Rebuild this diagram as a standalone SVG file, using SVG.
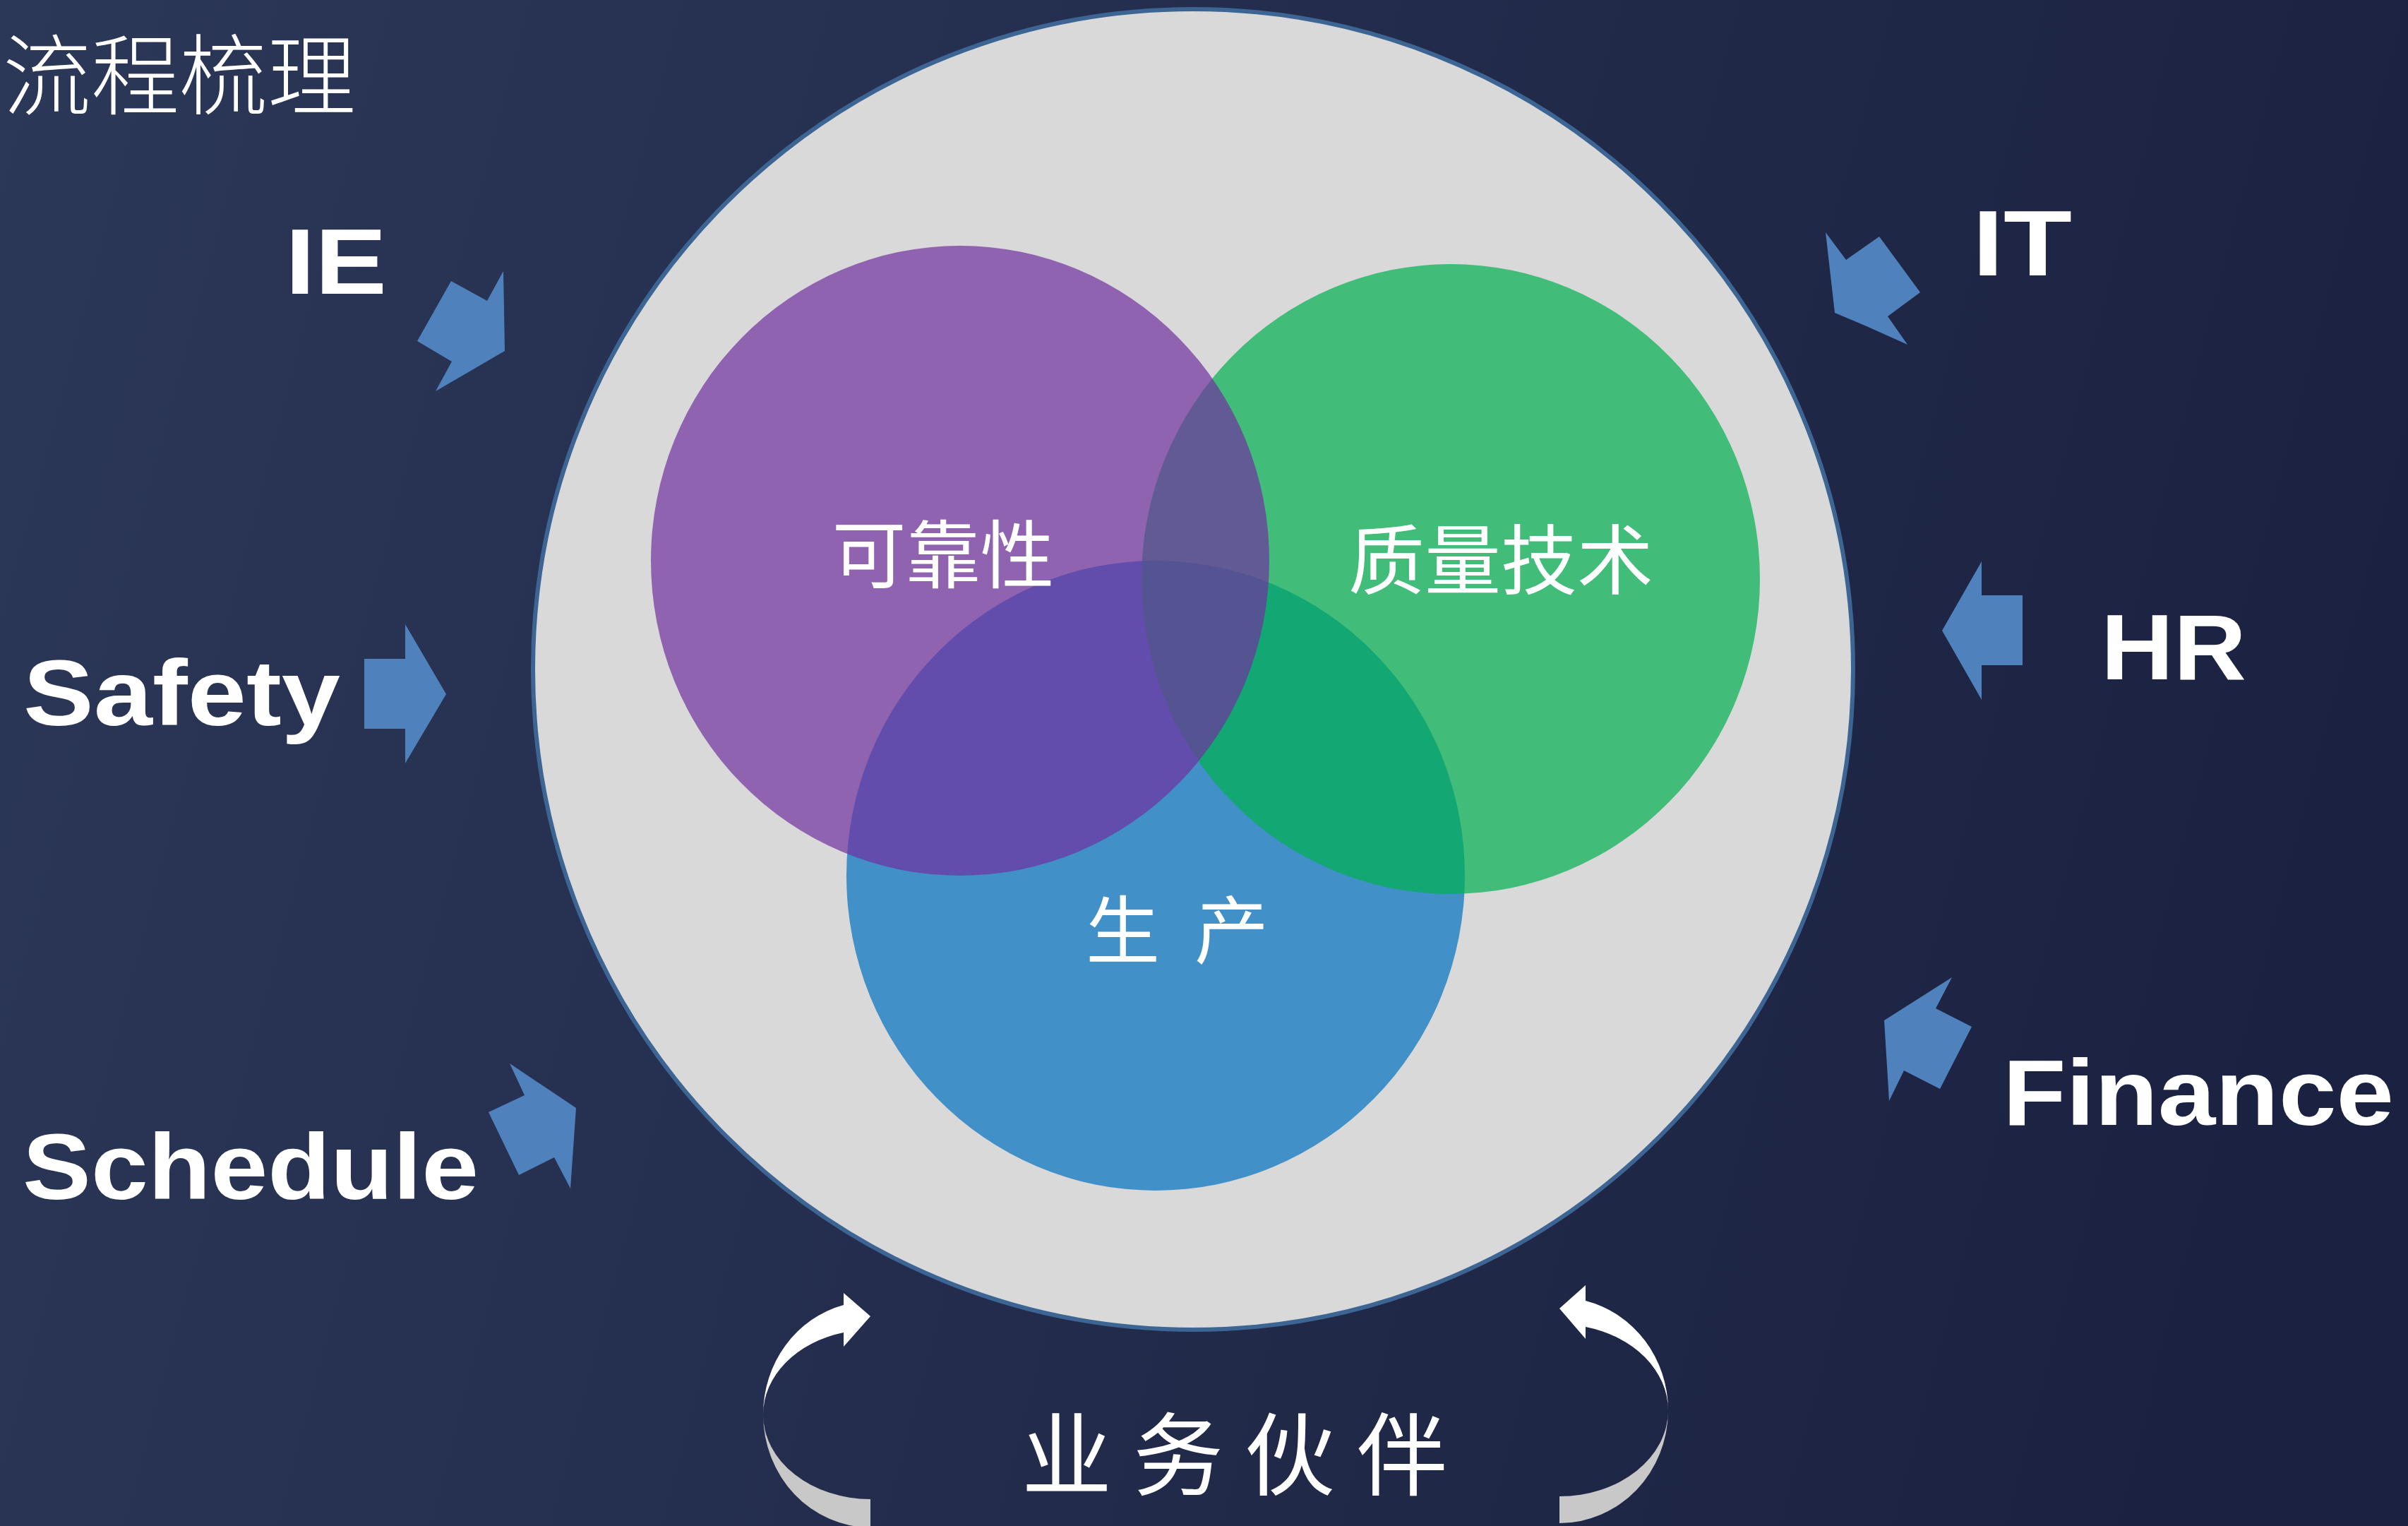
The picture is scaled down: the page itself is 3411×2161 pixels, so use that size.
<svg xmlns="http://www.w3.org/2000/svg" width="3411" height="2161" viewBox="0 0 3411 2161">
  <defs>
    <linearGradient id="bg" gradientUnits="userSpaceOnUse" x1="0" y1="0" x2="3411" y2="900">
      <stop offset="0" stop-color="#2c3858"/>
      <stop offset="1" stop-color="#1b2141"/>
    </linearGradient>
    <style>
      .lbl { font-family: "Liberation Sans", Arial, sans-serif; font-weight: bold; font-size: 132px; fill: #ffffff; }
      .cjk { font-family: "Noto Sans CJK SC", sans-serif; fill: #ffffff; font-weight: 400; }
      .thin { font-weight: 300; }
      .arrow { fill: #4f81bd; }
      .venn { fill-opacity: 0.7; }
      .cface { fill: #ffffff; }
      .cback { fill: #c8c8c8; }
    </style>
  </defs>

  <rect id="background" x="0" y="0" width="3411" height="2161" fill="url(#bg)"/>

  <g id="title">
    <text class="cjk thin" x="4" y="153" font-size="125">流程梳理</text>
  </g>

  <g id="outer-circle">
    <circle cx="1690" cy="948" r="935" fill="#d9d9d9" stroke="#3d6594" stroke-width="6"/>
  </g>

  <g id="node-production">
    <ellipse class="venn" cx="1637" cy="1240" rx="438" ry="446" fill="#0070c0"/>
    <text class="cjk" x="1538 1643 1692" y="1356" font-size="105">生 产</text>
  </g>
  <g id="node-quality">
    <ellipse class="venn" cx="2055" cy="820" rx="438" ry="446" fill="#00b050"/>
    <text class="cjk" x="2126" y="833" font-size="108" text-anchor="middle">质量技术</text>
  </g>
  <g id="node-reliability">
    <ellipse class="venn" cx="1360" cy="794" rx="438" ry="446" fill="#7030a0"/>
    <text class="cjk" x="1336" y="824" font-size="105" text-anchor="middle">可靠性</text>
  </g>

  <g id="node-IE"><text class="lbl" x="404" y="416" textLength="144" lengthAdjust="spacingAndGlyphs">IE</text></g>
  <g id="node-Safety"><text class="lbl" x="33" y="1027" textLength="449" lengthAdjust="spacingAndGlyphs">Safety</text></g>
  <g id="node-Schedule"><text class="lbl" x="32" y="1698" textLength="646" lengthAdjust="spacingAndGlyphs">Schedule</text></g>
  <g id="node-IT"><text class="lbl" x="2794" y="390" textLength="141" lengthAdjust="spacingAndGlyphs">IT</text></g>
  <g id="node-HR"><text class="lbl" x="2976" y="962" textLength="206" lengthAdjust="spacingAndGlyphs">HR</text></g>
  <g id="node-Finance"><text class="lbl" x="2837" y="1593" textLength="554" lengthAdjust="spacingAndGlyphs">Finance</text></g>

  <g id="node-partner">
    <text class="cjk" x="1447 1605 1763 1922" y="2108" font-size="128">业务伙伴</text>
  </g>

  <g id="connectors">
    <polygon class="arrow" points="713,384 715,497 617,554 640,512 591,483 639,398 690,426"/>
    <polygon class="arrow" points="516,933 574,933 574,884 632,983 574,1081 574,1032 516,1032"/>
    <polygon class="arrow" points="722,1506 743,1551 692,1575 735,1664 785,1639 808,1683 816,1569"/>
    <polygon class="arrow" points="2586,329 2615,368 2662,335 2720,414 2674,448 2702,488 2644,462 2599,443"/>
    <polygon class="arrow" points="2751,893 2807,795 2807,843 2865,843 2865,942 2807,942 2807,991"/>
    <polygon class="arrow" points="2765,1384 2742,1428 2793,1454 2748,1542 2697,1516 2676,1559 2669,1445"/>

    <path class="cback" d="M1081,2003 A152,160 0 0 0 1233,2163 L1233,2123 A152,120 0 0 1 1081,2003 Z"/>
    <path class="cface" d="M1195,1848 A152,160 0 0 0 1081,2003 A152,120 0 0 1 1195,1887 L1195,1907 L1233,1864 L1195,1831 Z"/>

    <path class="cback" d="M2363,1997 A154,160 0 0 1 2209,2157 L2209,2119 A154,122 0 0 0 2363,1997 Z"/>
    <path class="cface" d="M2246,1842 A154,160 0 0 1 2363,1997 A154,122 0 0 0 2246,1879 L2246,1896 L2209,1853 L2246,1820 Z"/>
  </g>
</svg>
